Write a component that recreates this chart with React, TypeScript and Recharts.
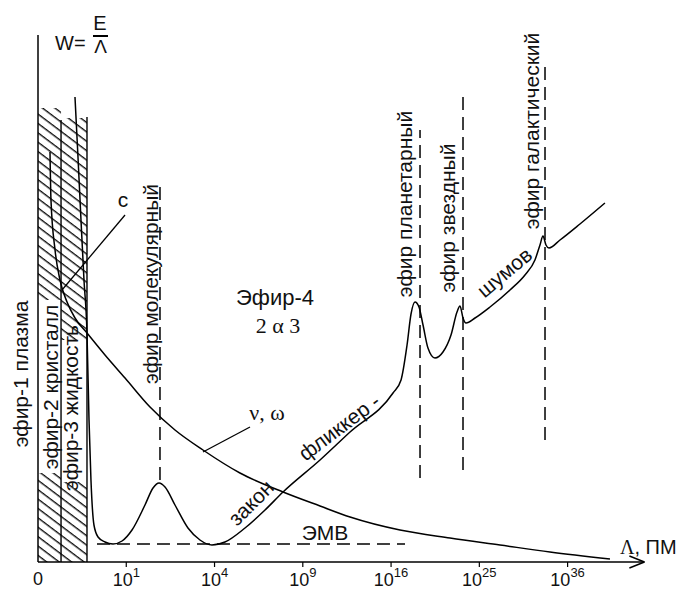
import React from "react";
import {
  ComposedChart,
  Line,
  XAxis,
  YAxis,
  ReferenceLine,
  ReferenceArea,
  ReferenceDot,
} from "recharts";

// x: one unit per labelled decade tick, y: height above the Λ axis
const tickBases = ["0", "10", "10", "10", "10", "10", "10"];
const tickPowers = ["", "1", "4", "9", "16", "25", "36"];

// spectrum W(Λ) — the curve with the ether peaks
const spectrum = [
  { x: 0.419, y: 465 }, { x: 0.453, y: 405 }, { x: 0.487, y: 342 }, { x: 0.521, y: 282 },
  { x: 0.555, y: 229 }, { x: 0.578, y: 142 }, { x: 0.6, y: 82 }, { x: 0.634, y: 37 },
  { x: 0.68, y: 25 }, { x: 0.759, y: 20 }, { x: 0.85, y: 18 }, { x: 0.952, y: 21 },
  { x: 1.065, y: 32 }, { x: 1.212, y: 57 }, { x: 1.303, y: 74 }, { x: 1.371, y: 79 },
  { x: 1.439, y: 75 }, { x: 1.552, y: 57 }, { x: 1.699, y: 34 }, { x: 1.835, y: 22 },
  { x: 1.971, y: 17 }, { x: 2.118, y: 20 }, { x: 2.345, y: 34 }, { x: 2.572, y: 52 },
  { x: 2.776, y: 70 }, { x: 3.195, y: 102 }, { x: 3.535, y: 130 }, { x: 4.022, y: 169 },
  { x: 4.113, y: 182 }, { x: 4.181, y: 217 }, { x: 4.226, y: 248 }, { x: 4.271, y: 260 },
  { x: 4.316, y: 255 }, { x: 4.362, y: 237 }, { x: 4.418, y: 214 }, { x: 4.497, y: 204 },
  { x: 4.588, y: 210 }, { x: 4.679, y: 227 }, { x: 4.747, y: 250 }, { x: 4.781, y: 256 },
  { x: 4.815, y: 244 }, { x: 4.849, y: 239 }, { x: 4.951, y: 244 }, { x: 5.121, y: 255 },
  { x: 5.347, y: 272 }, { x: 5.517, y: 287 }, { x: 5.63, y: 302 }, { x: 5.687, y: 317 },
  { x: 5.721, y: 326 }, { x: 5.755, y: 317 }, { x: 5.789, y: 314 }, { x: 5.914, y: 322 },
  { x: 6.14, y: 338 }, { x: 6.423, y: 359 },
];

// ν, ω — falling curve
const nuOmega = [
  { x: 0.136, y: 410 }, { x: 0.147, y: 362 }, { x: 0.193, y: 312 }, { x: 0.249, y: 282 },
  { x: 0.329, y: 260 }, { x: 0.419, y: 244 }, { x: 0.555, y: 229 }, { x: 0.759, y: 207 },
  { x: 0.986, y: 184 }, { x: 1.269, y: 155 }, { x: 1.552, y: 132 }, { x: 1.869, y: 112 },
  { x: 2.288, y: 89 }, { x: 2.776, y: 70 }, { x: 3.195, y: 56 }, { x: 3.535, y: 45 },
  { x: 4.101, y: 32 }, { x: 4.668, y: 24 }, { x: 5.234, y: 17 }, { x: 5.8, y: 10 },
  { x: 6.48, y: 3 },
];

const cLeader = [{ x: 0.272, y: 272 }, { x: 0.986, y: 347 }];
const nuLeader = [{ x: 1.869, y: 110 }, { x: 2.402, y: 135 }];

// dashed ether guides: x, bottom, top
const guideX = [1.382, 4.328, 4.815, 5.744];
const guideBottom = [82, 84, 92, 122];
const guideTop = [382, 432, 465, 497];
const emvLine = { x1: 0.668, x2: 4.158, y: 18 };

// hatched ether zones (x range, hatched y bands, blank band under the label)
const zones = [
  { x1: 0, x2: 0.261, bands: [[0, 89], [262, 454]], gap: [89, 262] },
  { x1: 0.261, x2: 0.555, bands: [[0, 80], [222, 444]], gap: [80, 222] },
];
const zoneBorders = [
  { x: 0.261, top: 442 },
  { x: 0.555, top: 445 },
];

const SANS = "'Liberation Sans', Arial, sans-serif";
const SERIF = "'Liberation Serif', 'Times New Roman', serif";

type Note = {
  x: number;
  y: number;
  text: string;
  rot?: number;
  size?: number;
  serif?: boolean;
  anchor?: "start" | "middle" | "end";
};

const notes: Note[] = [
  { x: 0.193, y: 512, text: "W=", size: 20, anchor: "start" },
  { x: 0.702, y: 532, text: "E", size: 20 },
  { x: 0.708, y: 509, text: "Λ", size: 19 },
  { x: 0.963, y: 355, text: "c", size: 21 },
  { x: -0.113, y: 188, text: "эфир-1 плазма", rot: -90, size: 21 },
  { x: 0.227, y: 175, text: "эфир-2 кристалл", rot: -90, size: 21 },
  { x: 0.453, y: 154, text: "эфир-3 жидкость", rot: -90, size: 21 },
  { x: 1.359, y: 278, text: "эфир молекулярный", rot: -90, size: 21 },
  { x: 4.237, y: 358, text: "эфир планетарный", rot: -90, size: 21 },
  { x: 4.724, y: 344, text: "эфир звездный", rot: -90, size: 21 },
  { x: 5.676, y: 431, text: "эфир галактический", rot: -90, size: 21 },
  { x: 2.685, y: 257, text: "Эфир-4", size: 22 },
  { x: 2.719, y: 229, text: "2 α 3", size: 22, serif: true },
  { x: 2.594, y: 142, text: "ν, ω", size: 22, serif: true },
  { x: 2.47, y: 54, text: "закон", rot: -45, size: 21 },
  { x: 3.462, y: 129, text: "фликкер -", rot: -37, size: 21 },
  { x: 5.337, y: 284, text: "шумов", rot: -40, size: 21 },
  { x: 3.251, y: 22, text: "ЭМВ", size: 21 },
];

const renderNote = (n: Note, i: number) => (
  <ReferenceDot
    key={"n" + i}
    x={n.x}
    y={n.y}
    r={0}
    ifOverflow="visible"
    shape={(p: any) => (
      <text
        x={p.cx}
        y={p.cy}
        textAnchor={n.anchor || "middle"}
        fontSize={n.size || 20}
        fontFamily={n.serif ? SERIF : SANS}
        fill="#111"
        transform={n.rot ? `rotate(${n.rot} ${p.cx} ${p.cy})` : undefined}
      >
        {n.text}
      </text>
    )}
  />
);

const AxisTick = (props: any) => {
  const { x, y, payload } = props;
  const i = payload.value as number;
  if (i === 0) {
    return (
      <text x={x} y={y + 23} textAnchor="middle" fontSize={18} fontFamily={SANS} fill="#111">
        {tickBases[0]}
      </text>
    );
  }
  return (
    <g>
      <line x1={x} y1={y} x2={x} y2={y + 5} stroke="#000" strokeWidth={1.2} />
      <text x={x} y={y + 24} textAnchor="middle" fontSize={18} fontFamily={SANS} fill="#111">
        {tickBases[i]}
        <tspan dy={-9} fontSize={13}>
          {tickPowers[i]}
        </tspan>
      </text>
    </g>
  );
};

const ink = { stroke: "#000", strokeWidth: 1.5 };
const dash = "13 7";

export default function App() {
  return (
    <div style={{ position: "absolute", left: 0, top: 0, background: "#fff" }}>
      <ComposedChart width={685} height={590} margin={{ top: 35, right: 0, bottom: 0, left: 38 }}>
        <defs>
          <pattern
            id="hatch"
            width="12"
            height="7.5"
            patternUnits="userSpaceOnUse"
            patternTransform="rotate(37)"
          >
            <line x1="0" y1="0.7" x2="12" y2="0.7" stroke="#000" strokeWidth="1.3" />
          </pattern>
        </defs>
        <XAxis
          type="number"
          dataKey="x"
          domain={[0, 7.33]}
          ticks={[0, 1, 2, 3, 4, 5, 6]}
          interval={0}
          allowDataOverflow
          axisLine={false}
          tickLine={false}
          tickSize={0}
          tickMargin={0}
          height={28}
          tick={<AxisTick />}
        />
        <YAxis type="number" domain={[0, 527]} hide allowDataOverflow />

        {zones.map((z, i) =>
          z.bands.map((b, j) => (
            <ReferenceArea
              key={`z${i}${j}`}
              x1={z.x1}
              x2={z.x2}
              y1={b[0]}
              y2={b[1]}
              fill="url(#hatch)"
              fillOpacity={1}
              stroke="none"
              ifOverflow="visible"
            />
          ))
        )}
        {zones.map((z, i) => (
          <ReferenceArea
            key={"gap" + i}
            x1={z.x1}
            x2={z.x2}
            y1={z.gap[0]}
            y2={z.gap[1]}
            fill="#fff"
            fillOpacity={1}
            stroke="none"
            ifOverflow="visible"
          />
        ))}
        {zoneBorders.map((b, i) => (
          <ReferenceLine
            key={"zb" + i}
            segment={[{ x: b.x, y: 0 }, { x: b.x, y: b.top }]}
            {...ink}
            strokeWidth={1.4}
            ifOverflow="visible"
          />
        ))}

        {/* axes */}
        <ReferenceLine segment={[{ x: 0, y: 0 }, { x: 0, y: 527 }]} {...ink} ifOverflow="visible" />
        <ReferenceLine segment={[{ x: 0, y: 0 }, { x: 6.87, y: 0 }]} {...ink} ifOverflow="visible" />
        <ReferenceLine segment={[{ x: 6.7, y: 6 }, { x: 6.87, y: 0 }]} {...ink} ifOverflow="visible" />
        <ReferenceLine segment={[{ x: 6.7, y: -6 }, { x: 6.87, y: 0 }]} {...ink} ifOverflow="visible" />

        {/* fraction bar of W = E / Λ */}
        <ReferenceLine segment={[{ x: 0.623, y: 526 }, { x: 0.793, y: 526 }]} stroke="#000" strokeWidth={2} ifOverflow="visible" />

        {guideX.map((gx, i) => (
          <ReferenceLine
            key={"g" + i}
            segment={[{ x: gx, y: guideBottom[i] }, { x: gx, y: guideTop[i] }]}
            {...ink}
            strokeDasharray={dash}
            ifOverflow="visible"
          />
        ))}
        <ReferenceLine
          segment={[{ x: emvLine.x1, y: emvLine.y }, { x: emvLine.x2, y: emvLine.y }]}
          {...ink}
          strokeDasharray={dash}
          ifOverflow="visible"
        />

        <Line data={spectrum} dataKey="y" type="monotone" {...ink} dot={false} activeDot={false} isAnimationActive={false} />
        <Line data={nuOmega} dataKey="y" type="monotone" {...ink} dot={false} activeDot={false} isAnimationActive={false} />
        <Line data={cLeader} dataKey="y" type="linear" {...ink} strokeWidth={1.3} dot={false} activeDot={false} isAnimationActive={false} />
        <Line data={nuLeader} dataKey="y" type="linear" {...ink} strokeWidth={1.3} dot={false} activeDot={false} isAnimationActive={false} />

        {notes.map(renderNote)}

        <ReferenceDot
          x={6.593}
          y={8}
          r={0}
          ifOverflow="visible"
          shape={(p: any) => (
            <text x={p.cx} y={p.cy} fontSize={20} fill="#111" fontFamily={SANS}>
              <tspan fontFamily={SERIF}>Λ</tspan>, ПМ
            </text>
          )}
        />
      </ComposedChart>
    </div>
  );
}
